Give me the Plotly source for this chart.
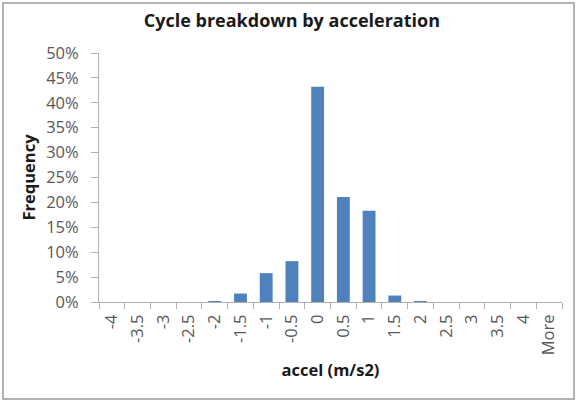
import plotly.graph_objects as go

# Histogram bins of acceleration (m/s2) and share of cycle time in each
bins = ["-4", "-3.5", "-3", "-2.5", "-2", "-1.5", "-1", "-0.5", "0", "0.5",
        "1", "1.5", "2", "2.5", "3", "3.5", "4", "More"]
frequency = [0.0, 0.0, 0.0, 0.0, 0.002, 0.017, 0.058, 0.082, 0.432, 0.211,
             0.183, 0.013, 0.001, 0.0, 0.0, 0.0, 0.0, 0.0]
y_ticks = [0, 0.05, 0.10, 0.15, 0.20, 0.25, 0.30, 0.35, 0.40, 0.45, 0.50]

W, H = 578, 405
ML, MR, MT, MB = 99, 16, 53, 103
pw, ph = W - ML - MR, H - MT - MB

def px_x(x):
    return (x - ML) / pw

def px_y(y):
    return (H - MB - y) / ph

fig = go.Figure(
    go.Bar(
        x=bins,
        y=frequency,
        marker=dict(color="#4F81BD", line=dict(width=0)),
        width=0.5,
    )
)

family = "Open Sans, Liberation Sans, sans-serif"
axis_font = dict(family=family, size=16.5, color="#595959")
title_font = dict(family=family, size=16.5, color="#1a1a1a")
axis_grey = "#b0b0b0"

fig.update_layout(
    width=W,
    height=H,
    margin=dict(l=ML, r=MR, t=MT, b=MB),
    paper_bgcolor="white",
    plot_bgcolor="white",
    showlegend=False,
    title=dict(
        text="<b>Cycle breakdown by acceleration</b>",
        x=0.505,
        xanchor="center",
        xref="container",
        y=(H - 21) / H,
        yanchor="middle",
        font=dict(family=family, size=18, color="#1a1a1a"),
    ),
    xaxis=dict(
        type="category",
        tickson="boundaries",
        ticks="outside",
        ticklen=6,
        tickcolor=axis_grey,
        showline=True,
        linecolor=axis_grey,
        linewidth=1,
        showgrid=False,
        tickangle=-90,
        tickfont=axis_font,
        ticklabelstandoff=5,
        title=dict(text="<b>accel (m/s2)</b>", font=title_font, standoff=10),
    ),
    yaxis=dict(
        range=[0, 0.5],
        tickvals=y_ticks,
        tickformat=".0%",
        ticks="outside",
        ticklen=7,
        tickcolor=axis_grey,
        showline=True,
        linecolor=axis_grey,
        linewidth=1,
        showgrid=False,
        zeroline=False,
        tickfont=axis_font,
        ticklabelstandoff=9,
        title=dict(text="<b>Frequency</b>", font=title_font, standoff=6),
    ),
    shapes=[
        dict(
            type="rect",
            xref="paper",
            yref="paper",
            x0=px_x(3),
            x1=px_x(574),
            y0=px_y(399),
            y1=px_y(3),
            line=dict(color="#9a9a9a", width=1.5),
            fillcolor="rgba(0,0,0,0)",
            layer="below",
        )
    ],
)

fig.write_html("out.html")
